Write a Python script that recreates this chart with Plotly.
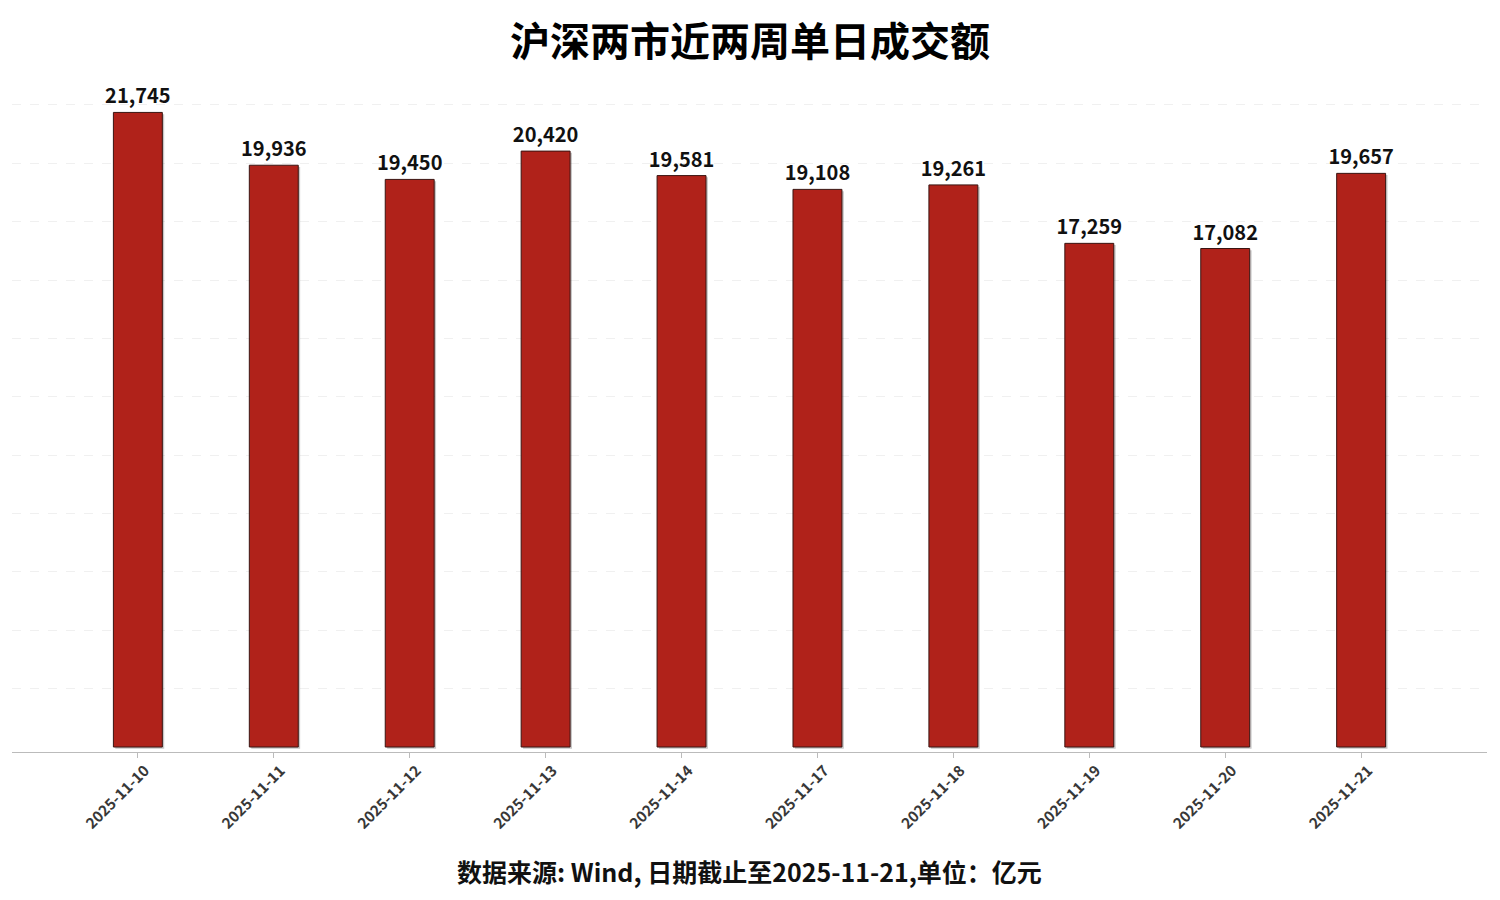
import plotly.graph_objects as go

dates = ["2025-11-10", "2025-11-11", "2025-11-12", "2025-11-13", "2025-11-14",
         "2025-11-17", "2025-11-18", "2025-11-19", "2025-11-20", "2025-11-21"]
turnover = [21745, 19936, 19450, 20420, 19581, 19108, 19261, 17259, 17082, 19657]
grid_values = list(range(2000, 22001, 2000))

FONT = "Noto Sans CJK SC"
BAR_W = 0.36

fig = go.Figure()
# subtle drop shadow behind bars
fig.add_trace(go.Bar(
    x=dates, y=turnover, base=-60,
    width=BAR_W, offset=-BAR_W / 2 + 0.014,
    marker=dict(color="rgba(0,0,0,0.22)", line=dict(width=0)),
    hoverinfo="skip",
))
fig.add_trace(go.Bar(
    x=dates, y=turnover,
    width=BAR_W, offset=-BAR_W / 2,
    marker=dict(color="#B0221A", line=dict(color="#3A1512", width=1)),
    text=[f"{v:,}" for v in turnover],
    textposition="outside",
    constraintext="none",
    cliponaxis=False,
    textfont=dict(family=FONT, size=20, color="#111111", weight="bold"),
    hoverinfo="x+y",
))

fig.update_layout(
    width=1500, height=900,
    paper_bgcolor="white", plot_bgcolor="white",
    margin=dict(l=12, r=13, t=100, b=148, autoexpand=False),
    showlegend=False,
    barmode="overlay",
    title=dict(text="<b>沪深两市近两周单日成交额</b>", x=0.5, xanchor="center",
               y=1 - 42 / 900, yanchor="middle",
               font=dict(family=FONT, size=40, color="#000000")),
    annotations=[dict(text="<b>数据来源: Wind, 日期截止至2025-11-21,单位：亿元</b>",
                      xref="paper", yref="paper", x=0.5, y=-(871 - 752) / 652,
                      xanchor="center", yanchor="middle", showarrow=False,
                      font=dict(family=FONT, size=25, color="#111111"))],
    xaxis=dict(type="category", range=[-0.926, 9.926], automargin=False,
               showline=True, linecolor="#BBBBBB", linewidth=1,
               ticks="outside", ticklen=5, tickcolor="#BBBBBB",
               tickangle=-45, showgrid=False,
               ticklabelshift=7, ticklabelstandoff=-2,
               tickfont=dict(family=FONT, size=15, color="#383838", weight="bold")),
    yaxis=dict(range=[-171, 22171], tickmode="array", tickvals=grid_values,
               automargin=False,
               showticklabels=False, showline=False, zeroline=False,
               showgrid=True, gridcolor="#F0F0F0", gridwidth=1, griddash="dash"),
)

fig.write_html("out.html", config={"displayModeBar": False},
               post_script="document.body.style.margin='0';")
